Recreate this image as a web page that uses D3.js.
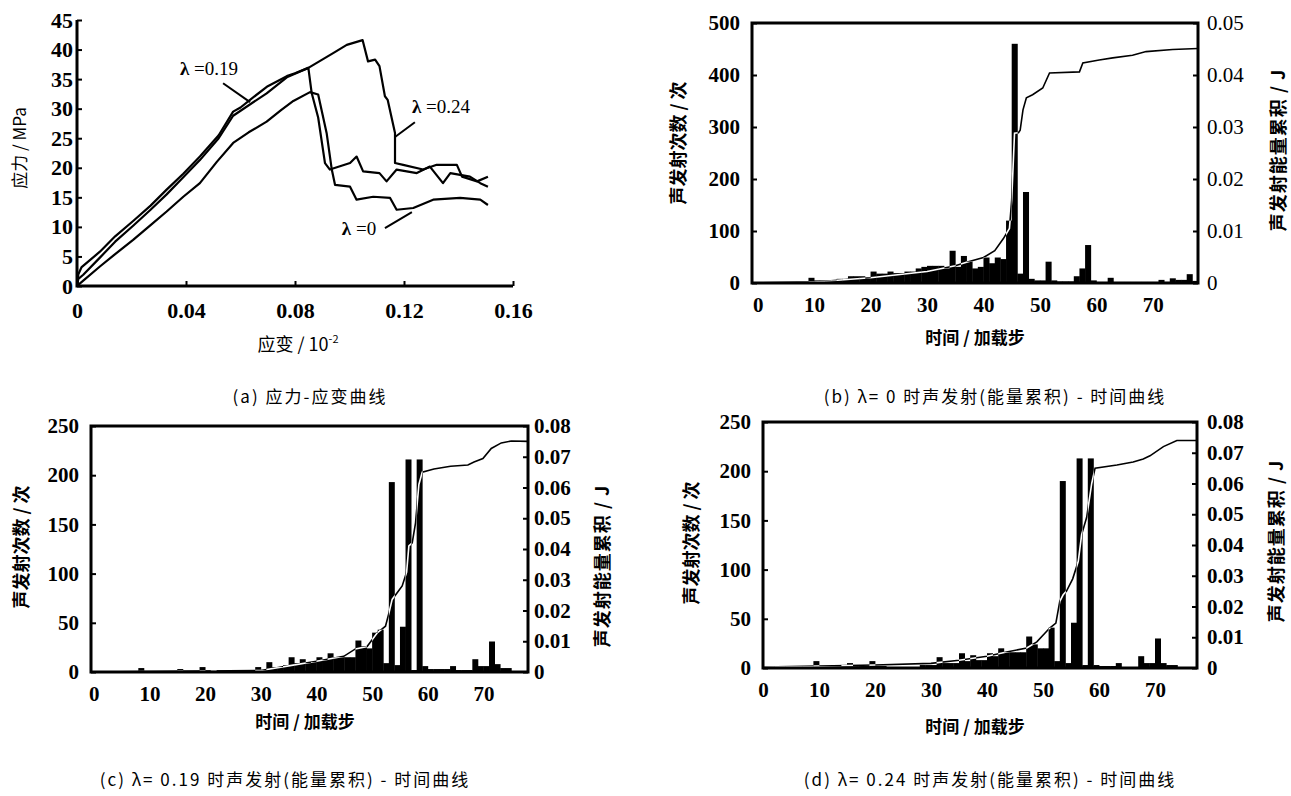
<!DOCTYPE html>
<html lang="zh">
<head>
<meta charset="utf-8">
<script src="https://cdn.jsdelivr.net/npm/d3@7"></script>
<title>应力-应变与声发射曲线</title>
<style>
  body { margin: 0; background: #fff; }
</style>
</head>
<body>
<script>
// ---------- (a) 应力-应变曲线 : [应变, 应力MPa] ----------
var curveL0 = [[0,0],[0.001,0.4],[0.0023,0.9],[0.0084,3.3],[0.014,5.4],[0.0206,7.8],[0.027,10.3],[0.0329,12.6],[0.039,15.1],[0.0451,17.4],[0.0513,21.0],
  [0.0573,24.2],[0.063,26.0],[0.0696,27.8],[0.075,29.8],[0.0794,31.3],[0.0855,32.8],[0.0885,32.4],[0.0916,25.9],[0.0935,19.7],[0.0947,17.1],
  [0.1002,16.8],[0.1026,14.6],[0.1087,15.1],[0.1149,14.9],[0.1173,12.9],[0.1234,13.2],[0.1307,14.6],[0.1406,14.9],[0.148,14.6],[0.1508,13.7]];
var curveL19 = [[0,0],[0.0005,2.0],[0.0017,3.2],[0.0084,5.8],[0.014,8.4],[0.0206,11.0],[0.027,13.6],[0.0329,16.3],[0.039,19.0],[0.0451,21.9],[0.052,25.5],
  [0.0573,29.5],[0.060,30.2],[0.0635,31.5],[0.070,33.8],[0.077,35.5],[0.080,36.0],[0.0849,36.9],[0.0861,32.7],[0.0885,28.5],[0.091,20.8],
  [0.0928,19.7],[0.1002,20.8],[0.1026,21.9],[0.105,19.4],[0.111,19.1],[0.1136,17.7],[0.1173,19.7],[0.1247,19.1],[0.1295,20.2],[0.1343,17.4],
  [0.137,19.1],[0.1442,18.5],[0.148,17.4],[0.1508,16.8]];
var curveL24 = [[0,0],[0.0005,1.2],[0.0023,1.9],[0.0084,4.8],[0.014,7.5],[0.0206,10.2],[0.027,12.9],[0.0329,15.5],[0.039,18.4],[0.0451,21.3],[0.052,25.0],
  [0.0573,28.8],[0.0696,32.6],[0.077,35.3],[0.0849,36.9],[0.094,39.4],[0.099,40.8],[0.1048,41.6],[0.1068,38.0],[0.1094,38.3],[0.111,37.2],
  [0.113,32.1],[0.114,31.5],[0.1167,25.9],[0.1167,20.8],[0.1197,20.5],[0.127,19.7],[0.132,20.5],[0.1394,20.5],[0.1413,18.5],[0.1468,17.7],[0.1508,18.5]];
var strainTicks = [0, 0.04, 0.08, 0.12, 0.16];
var stressTicks = [0, 5, 10, 15, 20, 25, 30, 35, 40, 45];
// 标注: 文字位置, 引线两端 (数据坐标)
var lambdaNames = ["0.19", "0.24", "0"];
var lambdaText = [[0.0378, 35.7], [0.1229, 29.3], [0.0972, 8.6]];
var lambdaLead = [[[0.0536, 34.3], [0.0635, 31.1]], [[0.1167, 25.2], [0.124, 27.7]], [[0.113, 9.8], [0.1229, 12.5]]];

// ---------- (b) λ=0 : 每加载步声发射次数 (步 0..77) ----------
var countsB = [0,0,0,0,0,0,0,0,0,10, 5,5,5,5,8,8,13,13,13,8, 22,18,18,22,19,19,22,22,28,31,
  33,33,33,28,62,31,52,41,28,31, 49,38,49,46,120,460,18,175,8,5, 5,41,5,3,3,3,13,28,73,5,
  2,2,10,2,2,2,2,2,2,2, 2,6,2,9,6,6,17,4];
var energyTimeB = [0,10,20,30,35,37,40,42,43.5,44.6,45.0,45.5,46.2,46.5,47.0,47.6,48.7,50.5,51.7,57.0,57.6,60.5,62.9,66.4,68.8,73.5,78];
var energyB = [0,0.0002,0.001,0.0022,0.0033,0.0040,0.0049,0.0062,0.0085,0.0105,0.016,0.0288,0.0289,0.0294,0.0333,0.0356,0.0362,0.0375,0.0404,0.0406,0.0423,0.0429,0.0433,0.0438,0.0445,0.0449,0.0451];

// ---------- (c) λ=0.19 ----------
var countsC = [0,0,0,0,0,0,0,0,4,0, 0,0,0,0,0,3,0,0,0,5, 0,2,0,0,0,0,0,0,0,5,
  2,10,5,5,7,15,9,13,9,10, 15,12,19,15,15,15,15,32,26,24, 40,43,9,193,7,46,216,2,216,6,
  3,3,3,3,6,2,2,2,13,6, 6,31,8,4,4,0,0,0];
var energyTimeC = [0,30,35,40,44.9,47.0,49.1,50.9,52.4,53.0,53.6,54.5,55.4,56.2,56.6,57.2,57.8,58.4,59.0,61.1,64.1,67.2,68.3,69.9,71.4,73.2,75.0,78];
var energyC = [0,0.0005,0.002,0.0035,0.0051,0.0075,0.0083,0.0127,0.0149,0.019,0.0236,0.0258,0.028,0.0325,0.041,0.042,0.0485,0.061,0.065,0.066,0.0669,0.0673,0.0683,0.0694,0.0727,0.0745,0.0751,0.075];

// ---------- (d) λ=0.24 ----------
var countsD = [2,2,2,2,2,2,2,2,2,7, 2,2,2,2,3,5,2,2,2,7, 2,2,0,0,0,0,0,0,3,3,
  3,11,5,5,5,15,7,13,8,8, 15,12,20,16,16,16,16,32,24,20, 20,41,7,190,5,46,213,3,213,3,
  2,2,2,5,1,1,1,12,5,5, 30,5,3,3,0,0,0,0];
var energyTimeD = [0,20,30,35,40,43.5,47.1,48.9,51.2,52.3,53.0,53.6,54.2,55.3,56.3,56.9,57.8,58.7,59.3,63.2,66.1,67.9,69.1,71.5,73.9,77.5];
var energyD = [0.0003,0.001,0.0015,0.0025,0.0038,0.0052,0.0065,0.0085,0.013,0.0146,0.0217,0.0238,0.025,0.029,0.0347,0.0434,0.049,0.06,0.065,0.066,0.067,0.068,0.069,0.072,0.074,0.074];

var stepTicks = [0, 10, 20, 30, 40, 50, 60, 70];

var serif = '"Liberation Serif", "Times New Roman", serif';
var cjk = '"Noto Sans CJK SC", sans-serif';

var width = 1291, height = 796;
var svg = d3.select("body").append("svg").attr("width", width).attr("height", height);
svg.append("rect").attr("width", width).attr("height", height).attr("fill", "#fff");

function styleAxis(g, fontSize, weight) {
  g.attr("font-family", null).attr("font-size", null);
  g.select(".domain").remove();
  g.selectAll(".tick line").attr("stroke", "#000").attr("stroke-width", 2);
  g.selectAll(".tick text").attr("fill", "#000")
    .style("font-family", serif)
    .style("font-size", fontSize + "px").style("font-weight", weight);
}

// ================= (a) =================
var xa = d3.scaleLinear().domain([0, 0.16]).range([77, 513]);
var ya = d3.scaleLinear().domain([0, 45]).range([286, 20]);
var ga = svg.append("g");

var lineA = d3.line().x(function(d){ return xa(d[0]); }).y(function(d){ return ya(d[1]); });
ga.selectAll(".curve").data([curveL0, curveL19, curveL24]).enter()
  .append("path").attr("class", "curve").attr("d", lineA)
  .attr("fill", "none").attr("stroke", "#000").attr("stroke-width", 2.2).attr("stroke-linejoin", "round");

ga.append("g").attr("transform", "translate(" + xa(0) + ",0)")
  .call(d3.axisLeft(ya).tickValues(stressTicks).tickSize(-5).tickPadding(4))
  .call(styleAxis, 22, "bold");
ga.append("g").attr("transform", "translate(0," + ya(0) + ")")
  .call(d3.axisBottom(xa).tickValues(strainTicks).tickSize(-5).tickPadding(16)
    .tickFormat(function(d){ return d === 0 ? "0" : d3.format(".2f")(d); }))
  .call(styleAxis, 22, "bold");
// 坐标轴线
ga.append("path")
  .attr("d", "M" + xa(0) + "," + ya(45) + "V" + ya(0) + "H" + xa(0.16))
  .attr("fill", "none").attr("stroke", "#000").attr("stroke-width", 3);

ga.append("text").style("font-family", cjk)
  .attr("transform", "translate(26,148) rotate(-90)")
  .attr("text-anchor", "middle").style("font-size", "17px").text("应力 / MPa");
var xt = ga.append("text").style("font-family", cjk).attr("x", 298).attr("y", 351)
  .attr("text-anchor", "middle").style("font-size", "18px");
xt.append("tspan").text("应变  / 10");
xt.append("tspan").attr("dy", -8).style("font-size", "11px").text("-2");

ga.selectAll(".lead").data(lambdaLead).enter().append("line").attr("class", "lead")
  .attr("x1", function(d){ return xa(d[0][0]); }).attr("y1", function(d){ return ya(d[0][1]); })
  .attr("x2", function(d){ return xa(d[1][0]); }).attr("y2", function(d){ return ya(d[1][1]); })
  .attr("stroke", "#000").attr("stroke-width", 2);
var lt = ga.selectAll(".lam").data(lambdaText).enter().append("text").attr("class", "lam")
  .attr("x", function(d){ return xa(d[0]); }).attr("y", function(d){ return ya(d[1]); })
  .style("font-family", serif).style("font-size", "19px");
lt.append("tspan").style("font-weight", "bold").text("λ");
lt.append("tspan").text(function(d, i){ return " =" + lambdaNames[i]; });

ga.append("text").style("font-family", cjk).attr("x", 310).attr("y", 403)
  .attr("text-anchor", "middle").style("font-size", "17px").style("letter-spacing", "2px")
  .text("(a)  应力-应变曲线");

// ================= 声发射面板 =================
function drawAE(cfg) {
  var g = svg.append("g");
  var x = d3.scaleLinear().domain(cfg.xDomain).range([cfg.x0, cfg.x1]);
  var yc = d3.scaleLinear().domain([0, cfg.countMax]).range([cfg.bottom, cfg.top]);
  var ye = d3.scaleLinear().domain([0, cfg.energyMax]).range([cfg.bottom, cfg.top]);
  var bars = cfg.counts.map(function(c, i){ return { t: i, c: c }; });
  var clipId = "bars-" + cfg.id;

  g.append("clipPath").attr("id", clipId).selectAll("rect").data(bars).enter().append("rect")
    .attr("x", function(d){ return x(d.t); })
    .attr("width", function(d){ return x(d.t + 1) - x(d.t) + 0.4; })
    .attr("y", function(d){ return yc(d.c); })
    .attr("height", function(d){ return yc(0) - yc(d.c); });

  g.selectAll(".bar").data(bars).enter().append("rect").attr("class", "bar")
    .attr("x", function(d){ return x(d.t); })
    .attr("width", function(d){ return x(d.t + 1) - x(d.t) + 0.4; })
    .attr("y", function(d){ return yc(d.c); })
    .attr("height", function(d){ return yc(0) - yc(d.c); })
    .attr("fill", "#000");

  var pts = cfg.energyTime.map(function(t, i){ return [t, cfg.energy[i]]; });
  var line = d3.line().x(function(d){ return x(d[0]); }).y(function(d){ return ye(d[1]); });
  g.append("path").attr("d", line(pts)).attr("fill", "none").attr("stroke", "#000").attr("stroke-width", 1.6);
  // 穿过柱子的部分呈白色
  g.append("path").attr("d", line(pts)).attr("fill", "none").attr("stroke", "#fff").attr("stroke-width", 1.6)
    .attr("clip-path", "url(#" + clipId + ")");

  g.append("g").attr("transform", "translate(" + cfg.x0 + ",0)")
    .call(d3.axisLeft(yc).ticks(5).tickSize(-5).tickPadding(cfg.padL))
    .call(styleAxis, 21, "bold");
  g.append("g").attr("transform", "translate(" + cfg.x1 + ",0)")
    .call(d3.axisRight(ye).tickValues(cfg.energyTicks).tickSize(-5).tickPadding(cfg.padR)
      .tickFormat(function(d){ return d === 0 ? "0" : d3.format(".2f")(d); }))
    .call(styleAxis, 21, cfg.rightWeight);
  g.append("g").attr("transform", "translate(0," + cfg.bottom + ")")
    .call(d3.axisBottom(x).tickValues(stepTicks).tickSize(0).tickPadding(14))
    .call(styleAxis, 21, "bold");

  g.append("rect").attr("x", cfg.x0).attr("y", cfg.top)
    .attr("width", cfg.x1 - cfg.x0).attr("height", cfg.bottom - cfg.top)
    .attr("fill", "none").attr("stroke", "#000").attr("stroke-width", 3);

  g.append("text").style("font-family", cjk)
    .attr("transform", "translate(" + cfg.yTitle[0] + "," + cfg.yTitle[1] + ") rotate(-90)")
    .attr("text-anchor", "middle").style("font-size", "18px").style("font-weight", "bold")
    .text("声发射次数 / 次");
  g.append("text").style("font-family", cjk)
    .attr("transform", "translate(" + cfg.rTitle[0] + "," + cfg.rTitle[1] + ") rotate(-90)")
    .attr("text-anchor", "middle").style("font-size", "18px").style("font-weight", "bold")
    .style("letter-spacing", "1px").text("声发射能量累积  /  J");
  g.append("text").style("font-family", cjk).attr("x", cfg.xTitle[0]).attr("y", cfg.xTitle[1])
    .attr("text-anchor", "middle").style("font-size", "17px").style("font-weight", "bold")
    .text("时间 / 加载步");
  g.append("text").style("font-family", cjk).attr("x", cfg.caption[0]).attr("y", cfg.caption[1])
    .attr("text-anchor", "middle").style("font-size", "17px").style("letter-spacing", "2px")
    .text(cfg.captionText);
}

drawAE({ id: "b", counts: countsB, energyTime: energyTimeB, energy: energyB,
  x0: 752, x1: 1198, top: 23, bottom: 283, xDomain: [-1, 78],
  countMax: 500, energyMax: 0.05, energyTicks: [0, 0.01, 0.02, 0.03, 0.04, 0.05],
  padL: 12, padR: 9, rightWeight: "normal",
  yTitle: [685, 143], rTitle: [1285, 150], xTitle: [975, 344], caption: [995, 403],
  captionText: "(b)  λ=  0 时声发射(能量累积) - 时间曲线" });

drawAE({ id: "c", counts: countsC, energyTime: energyTimeC, energy: energyC,
  x0: 91, x1: 528, top: 426, bottom: 672, xDomain: [-0.5, 78],
  countMax: 250, energyMax: 0.08, energyTicks: [0, 0.01, 0.02, 0.03, 0.04, 0.05, 0.06, 0.07, 0.08],
  padL: 12, padR: 6, rightWeight: "bold",
  yTitle: [28, 547], rTitle: [609, 566], xTitle: [305, 728], caption: [285, 786],
  captionText: "(c)  λ=  0.19 时声发射(能量累积) - 时间曲线" });

drawAE({ id: "d", counts: countsD, energyTime: energyTimeD, energy: energyD,
  x0: 763, x1: 1197, top: 422, bottom: 668, xDomain: [0, 77.5],
  countMax: 250, energyMax: 0.08, energyTicks: [0, 0.01, 0.02, 0.03, 0.04, 0.05, 0.06, 0.07, 0.08],
  padL: 12, padR: 10, rightWeight: "bold",
  yTitle: [698, 543], rTitle: [1283, 541], xTitle: [975, 733], caption: [990, 786],
  captionText: "(d)  λ=  0.24 时声发射(能量累积) - 时间曲线" });
</script>
</body>
</html>
